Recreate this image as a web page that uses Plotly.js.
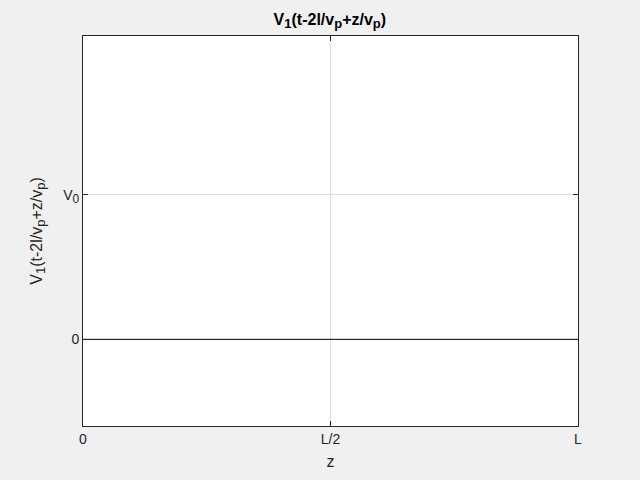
<!DOCTYPE html>
<html>
<head>
<meta charset="utf-8">
<script src="https://cdn.plot.ly/plotly-3.0.1.min.js"></script>
<style>html,body{margin:0;padding:0;background:#f0f0f0;}#chart{width:640px;height:480px;}</style>
</head>
<body>
<div id="chart"></div>
<script>
const zValues = [0, 1];
const vValues = [0, 0];
const xTickVals = [0, 0.5, 1];
const xTickText = ['0', 'L/2', 'L'];
const yTickVals = [0, 1];
const yTickText = ['0', 'V<sub><span style="font-size:12px">0</span></sub>'];

const fontFam = '"Liberation Sans", Arial, Helvetica, sans-serif';
const axColor = '#262626';

function sub(s, px) { return '<sub><span style="font-size:' + px + 'px">' + s + '</span></sub>'; }
const titleText = 'V' + sub('1', 13) + '(t-2l/v' + sub('p', 13) + '+z/v' + sub('p', 13) + ')';
const yTitleText = 'V' + sub('1', 13) + '(t-2l/v' + sub('p', 13) + '+z/v' + sub('p', 13) + ')';

const trace = {
  x: zValues, y: vValues, type: 'scatter', mode: 'lines',
  line: {color: '#000000', width: 1}, hoverinfo: 'none', showlegend: false
};

const layout = {
  width: 640, height: 480,
  paper_bgcolor: '#f0f0f0', plot_bgcolor: '#ffffff',
  margin: {l: 83, r: 62, t: 36, b: 54, pad: 0},
  font: {family: fontFam, color: axColor, size: 13},
  title: {
    text: titleText,
    font: {family: fontFam, size: 16, color: '#000000', weight: 'bold'},
    x: 0.5154, xanchor: 'center', y: 0.972, yanchor: 'top'
  },
  xaxis: {
    range: [0, 1], tickvals: xTickVals, ticktext: xTickText,
    ticks: 'inside', ticklen: 5, tickcolor: axColor, tickwidth: 1,
    showline: true, linecolor: axColor, linewidth: 1, mirror: 'ticks',
    showgrid: true, gridcolor: '#dfdfdf', gridwidth: 1, zeroline: false,
    tickfont: {size: 14, color: axColor, family: fontFam},
    title: {text: 'z', font: {size: 16, color: axColor, family: fontFam}, standoff: 10},
    automargin: false, fixedrange: true
  },
  yaxis: {
    range: [-0.6, 2.1], tickvals: yTickVals, ticktext: yTickText,
    ticks: 'inside', ticklen: 5, tickcolor: axColor, tickwidth: 1,
    showline: true, linecolor: axColor, linewidth: 1, mirror: 'ticks',
    showgrid: true, gridcolor: '#dfdfdf', gridwidth: 1, zeroline: false,
    tickfont: {size: 14, color: axColor, family: fontFam},
    title: {text: yTitleText, font: {size: 16, color: axColor, family: fontFam}, standoff: 16},
    automargin: false, fixedrange: true
  }
};

Plotly.newPlot('chart', [trace], layout, {displayModeBar: false, staticPlot: true});
</script>
</body>
</html>
